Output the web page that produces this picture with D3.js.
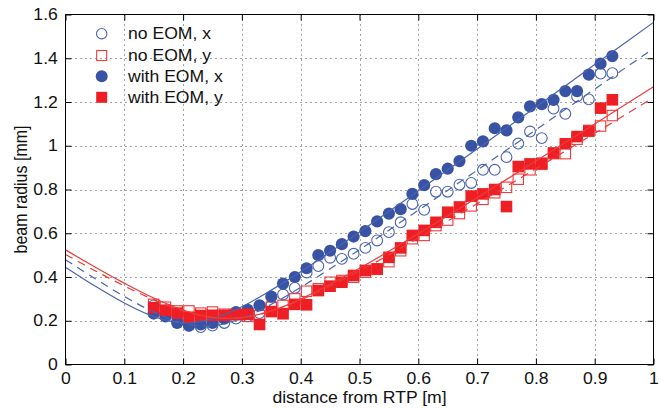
<!DOCTYPE html>
<html><head><meta charset="utf-8">
<script src="https://cdn.jsdelivr.net/npm/d3@7"></script>
<style>
body{margin:0;background:#fff}
svg{display:block}
text{font-family:"Liberation Sans",Arial,Helvetica,sans-serif;fill:#111}
</style>
</head><body>
<svg id="c" width="663" height="409"></svg>
<script>
// ---- data ----
const zPos = [0.15,0.17,0.19,0.21,0.23,0.25,0.27,0.29,0.31,0.33,0.35,0.37,0.39,0.41,0.43,0.45,0.47,0.49,0.51,0.53,
              0.55,0.57,0.59,0.61,0.63,0.65,0.67,0.69,0.71,0.73,0.75,0.77,0.79,0.81,0.83,0.85,0.87,0.89,0.91,0.93];
const noEomX = [0.27,0.235,0.20,0.178,0.171,0.178,0.19,0.21,0.22,0.235,0.27,0.32,0.35,0.42,0.45,0.488,0.483,0.506,0.533,0.567,
                0.605,0.65,0.734,0.707,0.79,0.79,0.822,0.83,0.89,0.89,0.948,1.01,1.065,1.035,1.17,1.146,1.225,1.212,1.33,1.332];
const noEomY = [0.275,0.262,0.245,0.245,0.235,0.24,0.23,0.23,0.22,0.224,0.262,0.27,0.30,0.335,0.346,0.376,0.384,0.399,0.422,0.435,
                0.47,0.52,0.575,0.59,0.635,0.66,0.69,0.725,0.755,0.785,0.81,0.847,0.89,0.915,0.964,0.964,1.03,1.07,1.09,1.138];
const withEomX = [0.233,0.22,0.19,0.178,0.183,0.19,0.21,0.24,0.25,0.27,0.31,0.37,0.40,0.44,0.50,0.52,0.55,0.585,0.61,0.654,
                  0.69,0.71,0.78,0.82,0.87,0.895,0.93,1.0,1.02,1.08,1.07,1.13,1.18,1.19,1.21,1.25,1.25,1.325,1.375,1.41];
const withEomY = [0.26,0.248,0.235,0.216,0.224,0.225,0.225,0.228,0.23,0.183,0.242,0.232,0.275,0.273,0.338,0.358,0.376,0.407,0.43,0.437,
                  0.49,0.533,0.59,0.613,0.65,0.696,0.72,0.77,0.78,0.80,0.722,0.905,0.917,0.92,0.967,1.009,1.042,1.067,1.172,1.21];
// fitted envelopes
const fitZ      = [0,0.05,0.1,0.15,0.2,0.25,0.3,0.35,0.4,0.5,0.6,0.7,0.8,0.9,1.0];
const fitWithX  = [0.445,0.359,0.281,0.219,0.190,0.209,0.264,0.340,0.424,0.606,0.794,0.985,1.177,1.371,1.564];
const fitNoX    = [0.479,0.393,0.311,0.240,0.188,0.177,0.211,0.275,0.353,0.525,0.705,0.888,1.073,1.259,1.445];
const fitWithY  = [0.524,0.446,0.372,0.304,0.249,0.215,0.214,0.245,0.299,0.440,0.598,0.762,0.930,1.099,1.270];
const fitNoY    = [0.503,0.429,0.359,0.296,0.245,0.214,0.214,0.244,0.295,0.428,0.578,0.735,0.895,1.057,1.220];
const xTicks = [0,0.1,0.2,0.3,0.4,0.5,0.6,0.7,0.8,0.9,1];
const yTicks = [0,0.2,0.4,0.6,0.8,1.0,1.2,1.4,1.6];
const legendLabels = ["no EOM, x","no EOM, y","with EOM, x","with EOM, y"];

// ---- layout ----
const L=65.5, R=653.5, T=14.5, B=364.5;
const BLUE="#3852a4", BLUE_L="#4a63b0", RED="#ed1f24", RED_L="#ef3a3a";
const FS=16, SX=1.1;

const svg=d3.select("#c");
const x=d3.scaleLinear().domain([0,1]).range([L,R]);
const y=d3.scaleLinear().domain([0,1.6]).range([B,T]);

// grid
const grid=svg.append("g").attr("stroke","#444").attr("stroke-width",1).attr("stroke-dasharray","1,4");
grid.selectAll("line.v").data(xTicks.slice(1,-1)).join("line")
  .attr("x1",d=>Math.round(x(d))+0.5).attr("x2",d=>Math.round(x(d))+0.5).attr("y1",T).attr("y2",B);
grid.selectAll("line.h").data(yTicks.slice(1,-1)).join("line")
  .attr("y1",d=>Math.round(y(d))+0.5).attr("y2",d=>Math.round(y(d))+0.5).attr("x1",L).attr("x2",R);

// markers
const pts=(arr)=>arr.map((v,i)=>[zPos[i],v]);
const gm=svg.append("g");
gm.append("g").selectAll("circle").data(pts(noEomX)).join("circle")
  .attr("cx",d=>x(d[0])).attr("cy",d=>y(d[1])).attr("r",5.4)
  .attr("fill","none").attr("stroke",BLUE_L).attr("stroke-width",1.1);
const so=10.4;
gm.append("g").selectAll("rect").data(pts(noEomY)).join("rect")
  .attr("x",d=>x(d[0])-so/2).attr("y",d=>y(d[1])-so/2).attr("width",so).attr("height",so)
  .attr("fill","none").attr("stroke",RED_L).attr("stroke-width",1.1);
gm.append("g").selectAll("circle").data(pts(withEomX)).join("circle")
  .attr("cx",d=>x(d[0])).attr("cy",d=>y(d[1])).attr("r",6.1).attr("fill",BLUE);
const sf=11.6;
gm.append("g").selectAll("rect").data(pts(withEomY)).join("rect")
  .attr("x",d=>x(d[0])-sf/2).attr("y",d=>y(d[1])-sf/2).attr("width",sf).attr("height",sf).attr("fill",RED);

// fit lines
svg.append("clipPath").attr("id","pc").append("rect").attr("x",L).attr("y",T).attr("width",R-L).attr("height",B-T);
const line=d3.line().x(d=>x(d[0])).y(d=>y(d[1])).curve(d3.curveCatmullRom.alpha(0.5));
const fp=(arr)=>arr.map((v,i)=>[fitZ[i],v]);
const gl=svg.append("g").attr("clip-path","url(#pc)").attr("fill","none").attr("stroke-width",1.2);
gl.append("path").attr("d",line(fp(fitWithX))).attr("stroke",BLUE_L);
gl.append("path").attr("d",line(fp(fitNoX))).attr("stroke",BLUE_L).attr("stroke-dasharray","8,6");
gl.append("path").attr("d",line(fp(fitWithY))).attr("stroke",RED_L);
gl.append("path").attr("d",line(fp(fitNoY))).attr("stroke",RED_L).attr("stroke-dasharray","8,6");

// axes
function styleAxis(g){
  g.select(".domain").remove();
  g.selectAll(".tick line").attr("stroke","#000");
  g.selectAll("text").attr("font-size",FS).attr("fill","#111").attr("font-family",null);
}
const axB=svg.append("g").attr("transform",`translate(0,${B})`)
  .call(d3.axisBottom(x).tickValues(xTicks).tickFormat(d3.format("~g")).tickSize(-6).tickPadding(8));
styleAxis(axB); axB.selectAll("text").attr("transform",`scale(${SX},1)`);
const axT=svg.append("g").attr("transform",`translate(0,${T})`)
  .call(d3.axisTop(x).tickValues(xTicks).tickFormat("").tickSize(-6));
styleAxis(axT);
const axL=svg.append("g").attr("transform",`translate(${L},0)`)
  .call(d3.axisLeft(y).tickValues(yTicks).tickFormat(d3.format("~g")).tickSize(-6).tickPadding(7));
styleAxis(axL); axL.selectAll("text").attr("transform",`scale(${SX},1)`);
const axR=svg.append("g").attr("transform",`translate(${R},0)`)
  .call(d3.axisRight(y).tickValues(yTicks).tickFormat("").tickSize(-6));
styleAxis(axR);
// frame
svg.append("rect").attr("x",L).attr("y",T).attr("width",R-L).attr("height",B-T)
  .attr("fill","none").attr("stroke","#000").attr("stroke-width",1);

// axis labels
svg.append("text").attr("transform",`translate(${(L+R)/2},403) scale(${SX},1)`)
  .attr("text-anchor","middle").attr("font-size",FS).text("distance from RTP [m]");
svg.append("text").attr("transform",`translate(27,${(T+B)/2}) scale(${SX},1) rotate(-90)`)
  .attr("text-anchor","middle").attr("font-size",FS).text("beam radius [mm]");

// legend
const legY=[33.7,55.5,76.3,97.3];
const lg=svg.append("g");
legendLabels.forEach((lab,i)=>{
  const cy=legY[i], cx=101.7;
  if(i===0) lg.append("circle").attr("cx",cx).attr("cy",cy).attr("r",5.2).attr("fill","none").attr("stroke",BLUE_L).attr("stroke-width",1.1);
  if(i===1) lg.append("rect").attr("x",cx-5).attr("y",cy-5).attr("width",10).attr("height",10).attr("fill","none").attr("stroke",RED_L).attr("stroke-width",1.1);
  if(i===2) lg.append("circle").attr("cx",cx).attr("cy",cy).attr("r",6).attr("fill",BLUE);
  if(i===3) lg.append("rect").attr("x",cx-5.5).attr("y",cy-5.5).attr("width",11).attr("height",11).attr("fill",RED);
  lg.append("text").attr("transform",`translate(128,${cy+5.6}) scale(${SX},1)`).attr("font-size",FS).text(lab);
});
</script>
</body></html>
